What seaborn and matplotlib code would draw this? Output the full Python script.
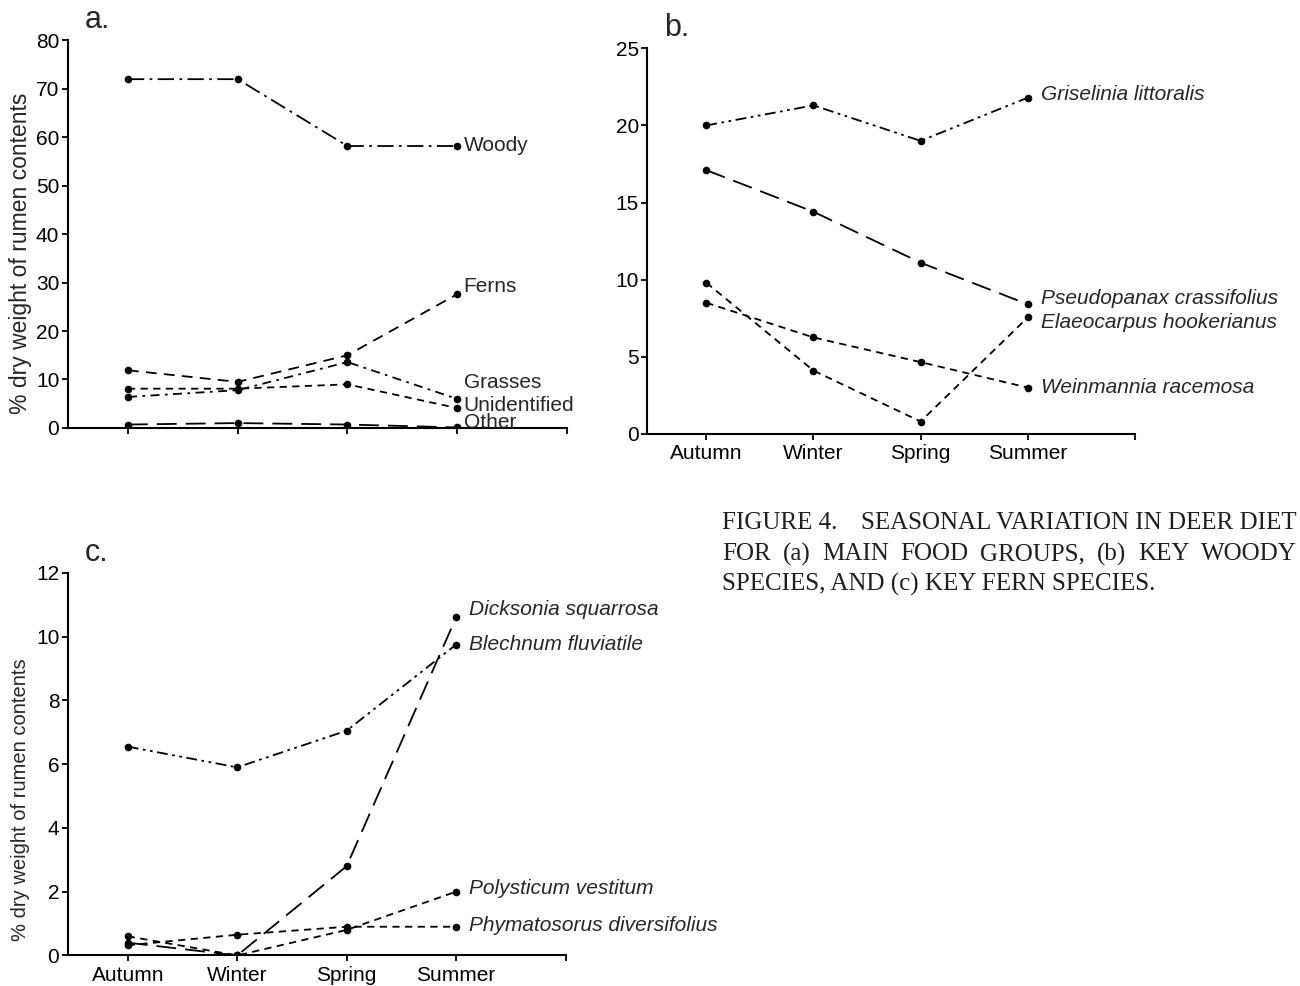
import matplotlib
matplotlib.use("Agg")
import matplotlib.pyplot as plt
import seaborn as sns
import pandas as pd

sns.set_style("ticks")
plt.rcParams["font.family"] = ["Liberation Sans", "DejaVu Sans"]

seasons = ["Autumn", "Winter", "Spring", "Summer"]

# panel a - main food groups
woody = [72.0, 72.0, 58.2, 58.2]
ferns = [11.9, 9.5, 15.0, 27.6]
grasses = [6.4, 7.8, 13.6, 6.0]
unidentified = [8.1, 8.1, 9.0, 4.1]
other = [0.7, 1.0, 0.7, 0.1]

# panel b - key woody species
griselinia = [20.0, 21.3, 19.0, 21.8]
pseudopanax = [17.1, 14.4, 11.1, 8.4]
elaeocarpus = [9.8, 4.1, 0.8, 7.55]
weinmannia = [8.5, 6.25, 4.65, 3.0]

# panel c - key fern species
dicksonia = [0.4, 0.0, 2.8, 10.6]
blechnum = [6.55, 5.9, 7.05, 9.75]
polysticum = [0.6, 0.0, 0.8, 2.0]
phymatosorus = [0.32, 0.65, 0.9, 0.9]

caption_1 = ["FIGURE 4.", "SEASONAL VARIATION IN DEER DIET"]
caption_2 = "FOR (a) MAIN FOOD GROUPS, (b) KEY WOODY"
caption_3 = "SPECIES, AND (c) KEY FERN SPECIES."

DASHDOT = (0, (9, 3, 1.5, 3))
DASHDOTDOT = (0, (6, 2.5, 1.5, 2.5, 1.5, 2.5))
LONG = (0, (11, 5))
MED = (0, (6, 4))
SHORT = (0, (4, 3))

panel_a = [
    ("Woody", woody, DASHDOT, 58.4, False),
    ("Ferns", ferns, MED, 29.3, False),
    ("Grasses", grasses, (0, (5, 3, 1.5, 3)), 9.3, False),
    ("Unidentified", unidentified, SHORT, 4.6, False),
    ("Other", other, LONG, 1.2, False),
]
panel_b = [
    ("Griselinia littoralis", griselinia, DASHDOTDOT, 22.0, True),
    ("Pseudopanax crassifolius", pseudopanax, LONG, 8.8, True),
    ("Elaeocarpus hookerianus", elaeocarpus, SHORT, 7.2, True),
    ("Weinmannia racemosa", weinmannia, SHORT, 3.0, True),
]
panel_c = [
    ("Dicksonia squarrosa", dicksonia, LONG, 10.85, True),
    ("Blechnum fluviatile", blechnum, DASHDOTDOT, 9.75, True),
    ("Polysticum vestitum", polysticum, SHORT, 2.1, True),
    ("Phymatosorus diversifolius", phymatosorus, SHORT, 0.95, True),
]

fig = plt.figure(figsize=(13, 9.86), dpi=100)
ax_a = fig.add_axes([0.052, 0.566, 0.384, 0.393])
ax_b = fig.add_axes([0.498, 0.560, 0.375, 0.391])
ax_c = fig.add_axes([0.052, 0.031, 0.383, 0.388])


def draw_panel(ax, series, ylim, yticks, letter, show_xlabels, xoff):
    for name, vals, ls, ty, italic in series:
        df = pd.DataFrame({"season": seasons, "value": vals})
        sns.lineplot(data=df, x="season", y="value", ax=ax, color="black",
                     linestyle=ls, linewidth=1.3, marker="o", markersize=5.5,
                     markeredgewidth=0, sort=False)
        ax.text(3 + xoff, ty, name, fontsize=15, va="center", ha="left",
                style="italic" if italic else "normal", clip_on=False)
    ax.set_xlim(-0.55, 4.0)
    ax.set_ylim(*ylim)
    ax.set_yticks(yticks)
    ax.set_xticks([0, 1, 2, 3, 4])
    if show_xlabels:
        ax.set_xticklabels(seasons + [""])
    else:
        ax.set_xticklabels([])
    ax.set_xlabel("")
    ax.set_ylabel("")
    ax.tick_params(labelsize=15, length=4, width=1.3, colors="black")
    ax.tick_params(axis="y", pad=2)
    sns.despine(ax=ax)
    for sp in ("left", "bottom"):
        ax.spines[sp].set_linewidth(1.5)
        ax.spines[sp].set_color("black")
    ax.text(0.034, 1.052, letter, transform=ax.transAxes, fontsize=22,
            va="center", ha="left")


ylab = "% dry weight of rumen contents"
draw_panel(ax_a, panel_a, (0, 80), range(0, 81, 10), "a.", False, 0.06)
draw_panel(ax_b, panel_b, (0, 25), range(0, 26, 5), "b.", True, 0.12)
draw_panel(ax_c, panel_c, (0, 12), range(0, 13, 2), "c.", True, 0.12)

ax_a.set_ylabel(ylab, fontsize=16.5)
ax_a.yaxis.set_label_coords(-0.072, 0.45)
ax_c.set_ylabel(ylab, fontsize=14.5)
ax_c.yaxis.set_label_coords(-0.076, 0.406)

# caption, justified like the printed page
W = 1300
cap = dict(fontsize=18, family=["Liberation Serif", "DejaVu Serif"],
           va="center", color="#1e1e1e")
renderer = fig.canvas.get_renderer()


def justified(words, x0, x1, y):
    texts = [fig.text(0, 1 - y / 986, w, ha="left", **cap) for w in words]
    widths = [t.get_window_extent(renderer).width for t in texts]
    gap = (x1 - x0 - sum(widths)) / (len(words) - 1)
    x = x0
    for t, w in zip(texts, widths):
        t.set_x(x / W)
        x += w + gap


justified(caption_1, 722, 1297, 523)
justified(caption_2.split(" "), 722, 1297, 554)
fig.text(722 / W, 1 - 584 / 986, caption_3, ha="left", **cap)

fig.savefig("out.png", dpi=100)
